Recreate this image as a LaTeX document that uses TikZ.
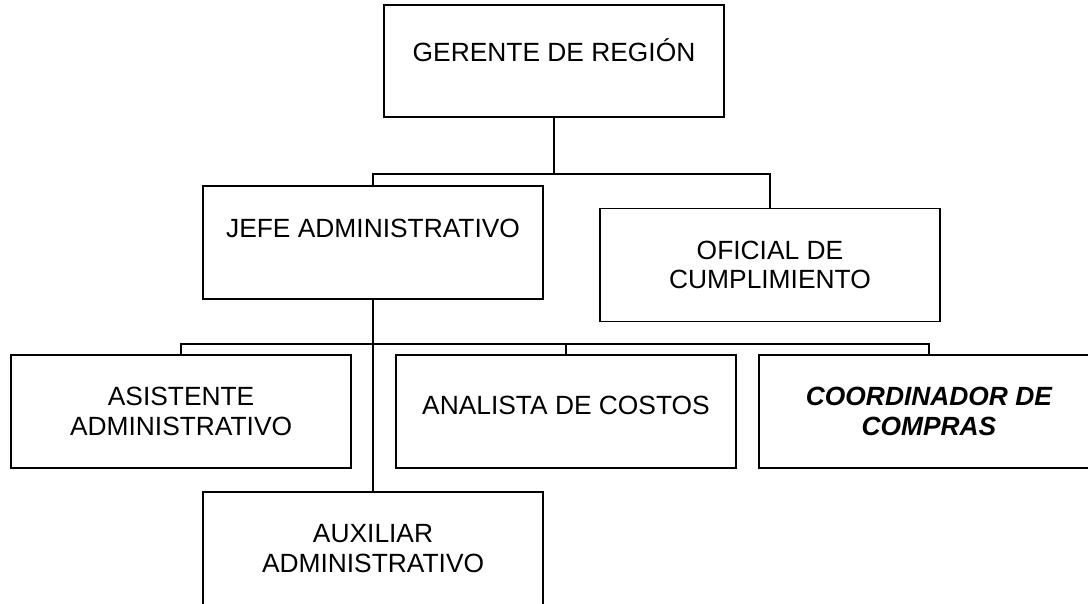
\documentclass[tikz,border=0pt]{standalone}
\usepackage{fontspec}
\setmainfont{Liberation Sans}
\usetikzlibrary{positioning}

\begin{document}
\begin{tikzpicture}[x=0.02cm, y=-0.02cm,
  font=\fontsize{15}{17}\selectfont,
  puesto/.style={draw, line width=0.9pt, align=center, outer sep=0pt,
    minimum width=6.8cm, minimum height=2.26cm, inner sep=2pt},
  unalinea/.style={text height=10.7pt, text depth=#1},
  tronco/.style={line width=1.1pt},
  rama/.style={line width=0.7pt}]
\useasboundingbox (0,0) rectangle (1088,603);

\node (gerente) [puesto, minimum height=2.24cm, unalinea=10.2pt] at (554,61) {GERENTE DE REGIÓN};
\node (jefe) [puesto, unalinea=16.5pt, below=1.38cm of gerente, xshift=-3.62cm] {JEFE ADMINISTRATIVO};
\node (oficial) [puesto, right=1.14cm of jefe, yshift=-0.45cm] {OFICIAL DE\\CUMPLIMIENTO};

\node (asistente) [puesto, below=1.12cm of jefe, xshift=-3.84cm] {ASISTENTE\\ADMINISTRATIVO};
\node (analista) [puesto, unalinea=7.4pt, right=0.9cm of asistente] {ANALISTA DE COSTOS};
\node (coordinador) [puesto, right=0.46cm of analista, font=\fontsize{15}{17}\selectfont\bfseries\itshape] {COORDINADOR DE\\COMPRAS};
\node (auxiliar) [puesto, below=0.48cm of asistente, xshift=3.84cm] {AUXILIAR\\ADMINISTRATIVO};

% puntos de reparto
\coordinate (repartoA) at (gerente.south |- 0,174);
\coordinate (repartoB) at (jefe.south |- 0,344);

\draw[tronco] (gerente) -- (repartoA);
\draw[rama] (jefe.north) |- (repartoA) -| (oficial.north);

\draw[tronco] (jefe) -- (auxiliar);
\draw[rama] (asistente.north) |- (repartoB) -| (coordinador.north);
\draw[rama] (analista.north) -- (analista.north |- repartoB);
\end{tikzpicture}
\end{document}
